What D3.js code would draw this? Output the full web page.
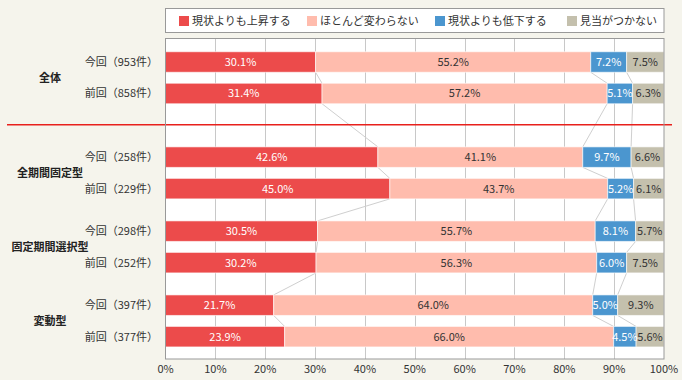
<!DOCTYPE html>
<html>
<head>
<meta charset="utf-8">
<script src="https://cdn.jsdelivr.net/npm/d3@7"></script>
<style>
  body { margin: 0; background: #f5f4ec; }
  text { font-family: "Noto Sans CJK JP", "Noto Sans", sans-serif; }
</style>
</head>
<body>
<script>
// categories
const groups = ["全体", "全期間固定型", "固定期間選択型", "変動型"];
const rowLabels = [
    ["今回（953件）", "前回（858件）"],
    ["今回（258件）", "前回（229件）"],
    ["今回（298件）", "前回（252件）"],
    ["今回（397件）", "前回（377件）"]
];
const seriesNames = ["現状よりも上昇する", "ほとんど変わらない", "現状よりも低下する", "見当がつかない"];
const colors = ["#ec4b4b", "#ffbcad", "#4b96cf", "#c4c0ad"];
const textColors = ["#fff", "#333", "#fff", "#333"];

// values per series, row order: 全体 今回/前回, 全期間固定型 今回/前回, ...
const rise    = [30.1, 31.4, 42.6, 45.0, 30.5, 30.2, 21.7, 23.9];
const same    = [55.2, 57.2, 41.1, 43.7, 55.7, 56.3, 64.0, 66.0];
const fall    = [7.2, 5.1, 9.7, 5.2, 8.1, 6.0, 5.0, 4.5];
const unknown = [7.5, 6.3, 6.6, 6.1, 5.7, 7.5, 9.3, 5.6];
const xTicks = [0, 10, 20, 30, 40, 50, 60, 70, 80, 90, 100];

const width = 682, height = 380;
const plot = {left: 165.5, right: 664, top: 38.5, bottom: 359};
const barH = 20.5;

const svg = d3.select("body").append("svg")
    .attr("width", width)
    .attr("height", height);

const x = d3.scaleLinear().domain([0, 100]).range([plot.left, plot.right]);
// slot units: one per row, a small gap between groups, a larger one after 全体
const y = d3.scaleLinear().domain([0, 1]).range([62, 93.5]);
const slot = (g, r) => g * 2 + r + g * 0.35 + (g > 0 ? 0.67 : 0);

const rows = [];
groups.forEach((gname, g) => {
    rowLabels[g].forEach((lab, r) => {
        const i = g * 2 + r;
        const vals = [rise[i], same[i], fall[i], unknown[i]];
        let c = 0;
        const segs = vals.map((v, k) => { const s = {k, v, x0: c, x1: c + v}; c += v; return s; });
        rows.push({g, r, label: lab, cy: y(slot(g, r)), segs});
    });
});

// plot background
svg.append("rect")
    .attr("x", plot.left).attr("y", plot.top)
    .attr("width", plot.right - plot.left).attr("height", plot.bottom - plot.top)
    .attr("fill", "#fff");

// grid
svg.append("g").selectAll("line")
    .data(xTicks.slice(1, -1))
    .join("line")
    .attr("x1", d => Math.round(x(d)) + 0.5).attr("x2", d => Math.round(x(d)) + 0.5)
    .attr("y1", plot.top).attr("y2", plot.bottom)
    .attr("stroke", "#c8c8c8");

// connector lines between consecutive bars
const conn = [];
for (let i = 0; i < rows.length - 1; i++) {
    for (let k = 0; k < 3; k++) {
        conn.push({xa: rows[i].segs[k].x1, ya: rows[i].cy + barH / 2,
                   xb: rows[i + 1].segs[k].x1, yb: rows[i + 1].cy - barH / 2});
    }
}
svg.append("g").selectAll("line")
    .data(conn)
    .join("line")
    .attr("x1", d => x(d.xa)).attr("y1", d => d.ya)
    .attr("x2", d => x(d.xb)).attr("y2", d => d.yb)
    .attr("stroke", "#cfcfcf");

// red separator
const sepY = (rows[1].cy + rows[2].cy) / 2 - 0.5;
svg.append("line")
    .attr("x1", 7).attr("x2", 672)
    .attr("y1", sepY).attr("y2", sepY)
    .attr("stroke", "#e8201c").attr("stroke-width", 1.5);

// bars
const rowG = svg.append("g").selectAll("g")
    .data(rows)
    .join("g");

rowG.selectAll("rect")
    .data(d => d.segs.map(s => ({...s, cy: d.cy})))
    .join("rect")
    .attr("x", d => x(d.x0))
    .attr("width", d => x(d.x1) - x(d.x0))
    .attr("y", d => d.cy - barH / 2)
    .attr("height", barH)
    .attr("fill", d => colors[d.k])
    .attr("stroke", "#fff")
    .attr("stroke-opacity", 0.6)
    .attr("stroke-width", 1);

rowG.selectAll("text")
    .data(d => d.segs.map(s => ({...s, cy: d.cy})))
    .join("text")
    .attr("x", d => x((d.x0 + d.x1) / 2))
    .attr("y", d => d.cy)
    .attr("dy", "0.36em")
    .attr("text-anchor", "middle")
    .attr("font-size", 11)
    .attr("fill", d => textColors[d.k])
    .text(d => d.v.toFixed(1) + "%");

// plot border
svg.append("rect")
    .attr("x", plot.left).attr("y", plot.top)
    .attr("width", plot.right - plot.left).attr("height", plot.bottom - plot.top)
    .attr("fill", "none")
    .attr("stroke", "#999");

// x axis labels
svg.append("g").selectAll("text")
    .data(xTicks)
    .join("text")
    .attr("x", d => x(d))
    .attr("y", 369)
    .attr("dy", "0.36em")
    .attr("text-anchor", "middle")
    .attr("font-size", 11)
    .attr("fill", "#333")
    .text(d => d + "%");

// row labels
svg.append("g").selectAll("text")
    .data(rows)
    .join("text")
    .attr("x", 158)
    .attr("y", d => d.cy)
    .attr("dy", "0.36em")
    .attr("text-anchor", "end")
    .attr("font-size", 11)
    .attr("fill", "#333")
    .text(d => d.label);

// group labels
svg.append("g").selectAll("text")
    .data(groups)
    .join("text")
    .attr("x", 50)
    .attr("y", (d, g) => (y(slot(g, 0)) + y(slot(g, 1))) / 2)
    .attr("dy", "0.36em")
    .attr("text-anchor", "middle")
    .attr("font-size", 11)
    .attr("font-weight", "bold")
    .attr("fill", "#222")
    .text(d => d);

// legend
svg.append("rect")
    .attr("x", 165.5).attr("y", 8.5)
    .attr("width", 498.5).attr("height", 24)
    .attr("fill", "#fff")
    .attr("stroke", "#999");

const legX = [179, 307, 435, 567];
const leg = svg.append("g").selectAll("g")
    .data(seriesNames)
    .join("g")
    .attr("transform", (d, i) => `translate(${legX[i]},16)`);
leg.append("rect")
    .attr("width", 10).attr("height", 10)
    .attr("fill", (d, i) => colors[i]);
leg.append("text")
    .attr("x", 13).attr("y", 5)
    .attr("dy", "0.36em")
    .attr("font-size", 11)
    .attr("fill", "#333")
    .text(d => d);
</script>
</body>
</html>
